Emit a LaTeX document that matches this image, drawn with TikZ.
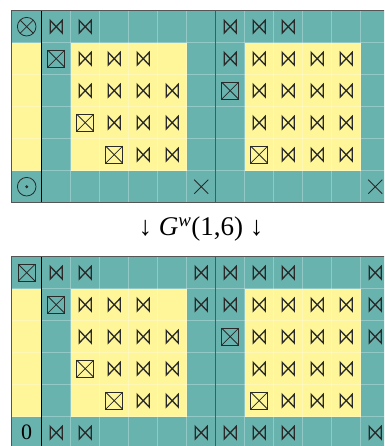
\documentclass[tikz,border=0pt]{standalone}
\usepackage{fontspec}
\setmainfont{Liberation Serif}
\definecolor{tealc}{HTML}{69B3AF}
\definecolor{yelc}{HTML}{FFF599}
\definecolor{ink}{HTML}{2A2A2A}
\definecolor{frame}{HTML}{555555}
\tikzset{
  gridl/.style={white, opacity=0.28, line width=0.9pt},
  symb/.style={ink, line width=1.3pt},
  pics/bowt/.style={code={\draw[symb, line join=miter] (-6,-6.3)--(-6,6.3)--(6,-6.3)--(6,6.3)--cycle;}},
  pics/boxx/.style={code={\draw[symb] (-8.5,-8.5) rectangle (8.5,8.5);
      \draw[ink, line width=0.8pt] (-8.5,-8.5)--(8.5,8.5) (-8.5,8.5)--(8.5,-8.5);}},
  pics/otim/.style={code={\draw[ink, line width=0.8pt] (0,0) circle (9.3)
      (-6.6,-6.6)--(6.6,6.6) (-6.6,6.6)--(6.6,-6.6);}},
  pics/odt/.style={code={\draw[ink, line width=0.8pt] (0,0) circle (9.3); \fill[ink] (0,0) circle (1.6);}},
  pics/crs/.style={code={\draw[ink, line width=0.9pt] (-7,-7)--(7,7) (-7,7)--(7,-7);}},
  lbl/.style={font=\fontsize{22}{26}\selectfont, inner sep=0pt},
  oplbl/.style={font=\fontsize{27}{32}\selectfont, inner sep=0pt}
}
\begin{document}
\begin{tikzpicture}[x=1pt,y=-1pt]
\useasboundingbox (0,0) rectangle (384,446);
\clip (0,0) rectangle (384,446);
\foreach \Y in {10.7,256.7}{
  \fill[tealc] (11.7,\Y) rectangle (390,{\Y+192});
  \fill[yelc] (11.7,{\Y+32}) rectangle (41.7,{\Y+160});
  \fill[yelc] (70.7,{\Y+32}) rectangle (186.7,{\Y+160});
  \fill[yelc] (244.7,{\Y+32}) rectangle (360.7,{\Y+160});
  \foreach \k in {1,...,5,7,8,9,10,11}
    \draw[gridl] ({41.7+29*\k},\Y) -- ({41.7+29*\k},{\Y+192});
  \foreach \r in {1,...,5}
    \draw[gridl] (11.7,{\Y+32*\r}) -- (390,{\Y+32*\r});
  \draw[black, line width=0.9pt] (41.7,\Y) -- (41.7,{\Y+192});
  \draw[frame, line width=1pt] (215.7,\Y) -- (215.7,{\Y+192});
  \draw[frame, line width=1.4pt] (11.7,{\Y+192}) -- (11.7,\Y) -- (390,\Y);
}
\draw[frame, line width=1.4pt] (11.7,202.7) -- (390,202.7);
% top grid symbols
\foreach \c/\r in {1/0,2/0,7/0,8/0,9/0,2/1,3/1,4/1,7/1,8/1,9/1,10/1,11/1,
  2/2,3/2,4/2,5/2,8/2,9/2,10/2,11/2,3/3,4/3,5/3,8/3,9/3,10/3,11/3,4/4,5/4,9/4,10/4,11/4}
  \pic at ({41.7+29*(\c-1)+14.5},{10.7+32*\r+16}) {bowt};
\foreach \c/\r in {1/1,7/2,2/3,3/4,8/4}
  \pic at ({41.7+29*(\c-1)+14.5},{10.7+32*\r+16}) {boxx};
\pic at (26.7,26.7) {otim};
\pic at (26.7,186.7) {odt};
\pic at (201.2,186.7) {crs};
\pic at (375.2,186.7) {crs};
% bottom grid symbols
\foreach \c/\r in {1/0,2/0,6/0,7/0,8/0,9/0,12/0,
  2/1,3/1,4/1,6/1,7/1,8/1,9/1,10/1,11/1,12/1,
  2/2,3/2,4/2,5/2,8/2,9/2,10/2,11/2,12/2,
  3/3,4/3,5/3,8/3,9/3,10/3,11/3,
  4/4,5/4,9/4,10/4,11/4,
  1/5,2/5,6/5,7/5,8/5,9/5,12/5}
  \pic at ({41.7+29*(\c-1)+14.5},{256.7+32*\r+16}) {bowt};
\foreach \c/\r in {1/1,7/2,2/3,3/4,8/4}
  \pic at ({41.7+29*(\c-1)+14.5},{256.7+32*\r+16}) {boxx};
\pic at (26.7,272.7) {boxx};
\node[lbl] (zero) at (26.7,432.7) {0};
\node[oplbl] (op) at (201,229) {↓ \textit{G}\textsuperscript{\textit{w}}(1,6) ↓};
\end{tikzpicture}
\end{document}
